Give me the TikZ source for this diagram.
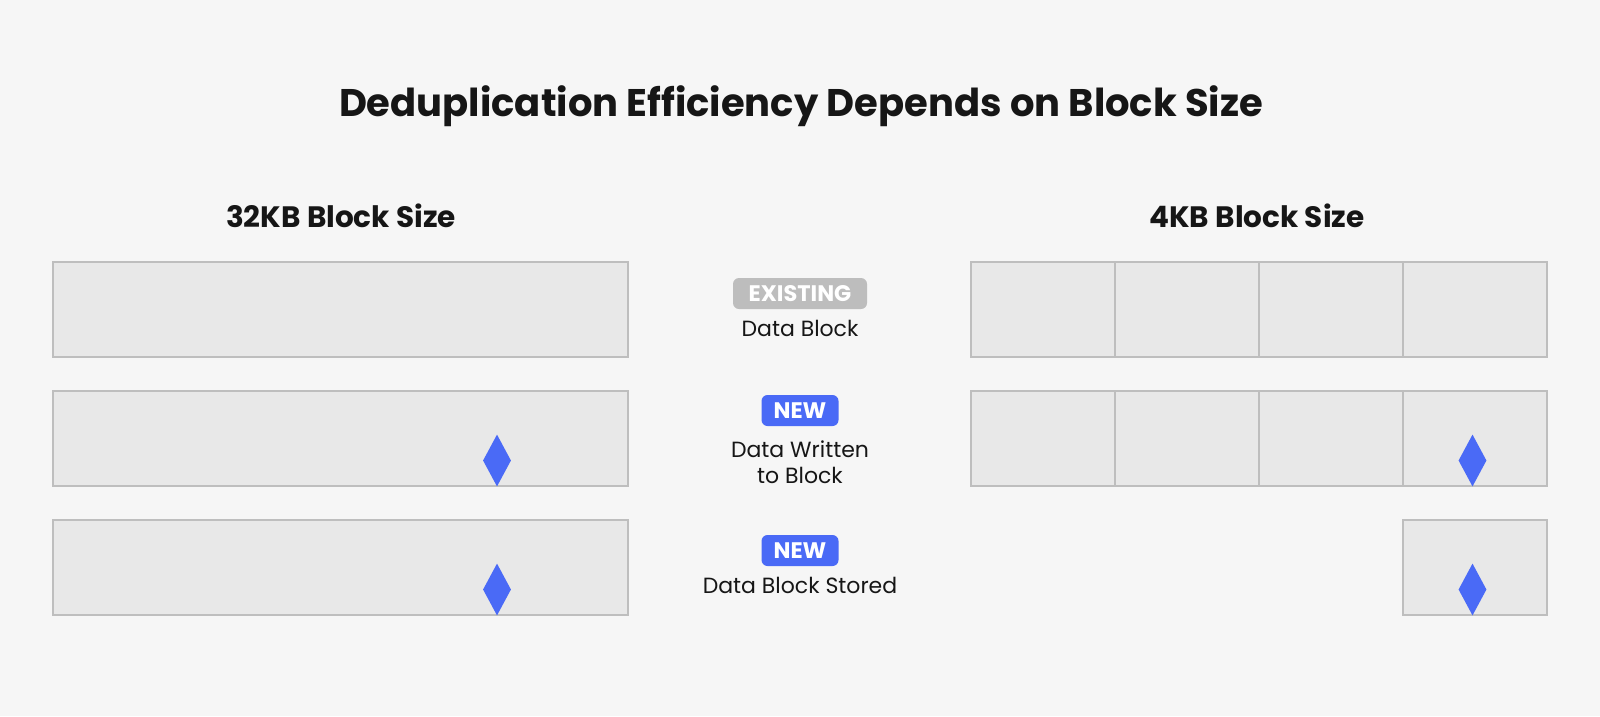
\documentclass[tikz,border=0pt]{standalone}
\usepackage{fontspec}
\setmainfont{Poppins}
\usetikzlibrary{shapes.geometric}
\definecolor{bg}{HTML}{F6F6F6}
\definecolor{cellfill}{HTML}{E8E8E8}
\definecolor{celldraw}{HTML}{BEBEBE}
\definecolor{blu}{HTML}{4A6AF6}
\definecolor{badgegray}{HTML}{BDBDBD}
\definecolor{ink}{HTML}{161616}
\tikzset{
  cell/.style={draw=celldraw, fill=cellfill, line width=1.5pt, minimum height=95pt, inner sep=0pt},
  bigcell/.style={cell, minimum width=575pt},
  smallcell/.style={cell, minimum width=144pt},
  gem/.style={diamond, fill=blu, minimum width=28pt, minimum height=52pt, inner sep=0pt},
  badge/.style={rounded corners=6pt, text=white, font=\bfseries\fontsize{22.5}{24}\selectfont, minimum height=31pt, inner sep=0pt},
  lbl/.style={text=ink, font=\fontsize{22}{26}\selectfont, align=center, inner sep=0pt},
  heading/.style={text=ink, font=\bfseries\fontsize{29.5}{33}\selectfont, inner sep=0pt},
  titlestyle/.style={text=ink, font=\bfseries\fontsize{38.5}{42}\selectfont, inner sep=0pt},
}
\begin{document}
\begin{tikzpicture}[x=1pt,y=-1pt]
\fill[bg] (0,0) rectangle (1600,716);
\useasboundingbox (0,0) rectangle (1600,716);

\node[titlestyle] (title) at (801,106) {Deduplication Efficiency Depends on Block Size};
\node[heading] (h32) at (341,216) {32KB Block Size};
\node[heading] (h4) at (1257,216) {4KB Block Size};

% left column
\node[bigcell] (L1) at (340.5,309.5) {};
\node[bigcell] (L2) at (340.5,438.5) {};
\node[bigcell] (L3) at (340.5,567.5) {};
\node[gem] (dL2) at (497,460.5) {};
\node[gem] (dL3) at (497,589.5) {};

% right column
\foreach \i/\x in {1/1043,2/1187,3/1331,4/1475}{
  \node[smallcell] (Ra\i) at (\x,309.5) {};
  \node[smallcell] (Rb\i) at (\x,438.5) {};
}
\node[smallcell] (Rc4) at (1475,567.5) {};
\node[gem] (dR2) at (1472.5,460.5) {};
\node[gem] (dR3) at (1472.5,589.5) {};

% centre legend
\node[badge, fill=badgegray, minimum width=134pt] (b1) at (800,293.5) {EXISTING};
\node[lbl] (t1) at (800,328) {Data Block};
\node[badge, fill=blu, minimum width=77pt] (b2) at (800,410.5) {NEW};
\node[lbl] (t2) at (800,462.5) {Data Written\\to Block};
\node[badge, fill=blu, minimum width=77pt] (b3) at (800,550.5) {NEW};
\node[lbl] (t3) at (800,585) {Data Block Stored};
\end{tikzpicture}
\end{document}
